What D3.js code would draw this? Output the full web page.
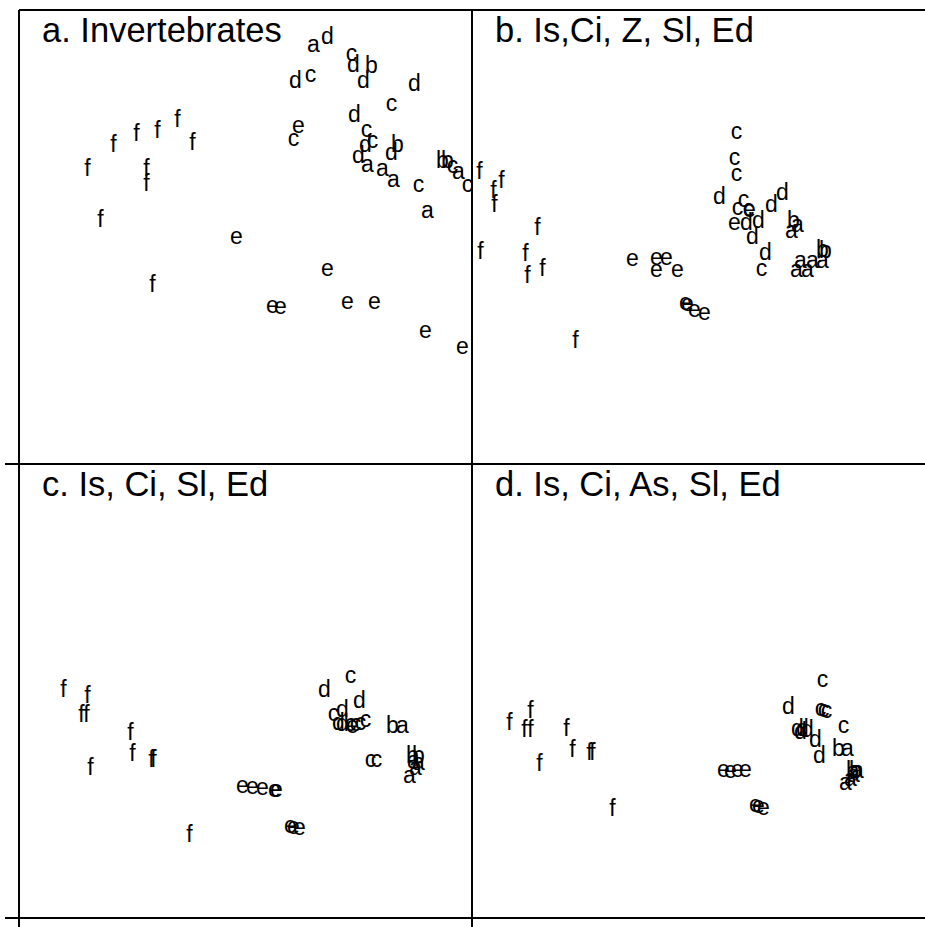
<!DOCTYPE html>
<html>
<head>
<meta charset="utf-8">
<script src="https://d3js.org/d3.v7.min.js"></script>
<style>
  body { margin: 0; background: #fff; }
  svg text { font-family: "Liberation Sans", Arial, sans-serif; fill: #000; }
</style>
</head>
<body>
<svg width="925" height="927"></svg>
<script>
// panel titles
var titles = ["a. Invertebrates", "b. Is,Ci, Z, Sl, Ed", "c. Is, Ci, Sl, Ed", "d. Is, Ci, As, Sl, Ed"];

// ordination scores [group, axis1, axis2]
var ptsA = [
  ["a",0.68,1.93],["a",1.22,0.73],["a",1.37,0.69],["a",1.48,0.58],["a",1.82,0.27],["a",2.13,0.66],
  ["b",1.26,1.72],["b",1.52,0.93],["b",1.97,0.77],["b",2.02,0.77],
  ["c",1.06,1.84],["c",0.65,1.63],["c",1.46,1.34],["c",0.48,0.99],["c",1.21,1.08],["c",1.27,0.97],["c",1.73,0.53],["c",2.07,0.72],["c",2.22,0.53],
  ["d",0.82,2.01],["d",1.08,1.73],["d",0.50,1.57],["d",1.18,1.57],["d",1.69,1.54],["d",1.09,1.23],["d",1.20,0.93],["d",1.46,0.85],["d",1.13,0.82],
  ["e",0.53,1.12],["e",-0.09,0.01],["e",0.82,-0.31],["e",0.27,-0.68],["e",0.35,-0.69],["e",1.02,-0.64],["e",1.29,-0.64],["e",1.80,-0.93],["e",2.17,-1.09],
  ["f",-1.32,0.93],["f",-1.09,1.04],["f",-0.88,1.07],["f",-0.68,1.18],["f",-0.53,0.95],["f",-1.58,0.69],["f",-0.99,0.69],["f",-0.99,0.54],["f",-1.45,0.18],["f",-0.93,-0.47]
];

var ptsB = [
  ["a",0.99,0.13],["a",0.93,0.07],["a",1.02,-0.23],["a",1.14,-0.23],["a",1.24,-0.23],["a",0.98,-0.32],["a",1.09,-0.32],
  ["b",0.95,0.17],["b",1.24,-0.12],["b",1.27,-0.13],
  ["c",0.38,1.06],["c",0.36,0.80],["c",0.38,0.64],["c",0.45,0.38],["c",0.39,0.30],["c",0.50,0.29],["c",0.63,-0.31],
  ["d",0.21,0.41],["d",0.48,0.15],["d",0.60,0.17],["d",0.54,0.01],["d",0.67,-0.15],["d",0.73,0.33],["d",0.84,0.45],
  ["e",0.36,0.15],["e",0.51,0.28],["e",-0.66,-0.21],["e",-0.42,-0.20],["e",-0.32,-0.20],["e",-0.42,-0.32],["e",-0.21,-0.32],["e",-0.13,-0.65],["e",-0.11,-0.66],["e",-0.04,-0.72],["e",0.06,-0.75],
  ["f",-2.19,0.66],["f",-1.97,0.57],["f",-2.05,0.47],["f",-2.04,0.33],["f",-1.61,0.10],["f",-2.18,-0.14],["f",-1.73,-0.16],["f",-1.56,-0.31],["f",-1.71,-0.38],["f",-1.23,-1.03]
];

var ptsC = [
  ["a",1.57,-0.34],["a",1.70,-0.76],["a",1.64,-0.84],["a",1.73,-0.71],["a",1.68,-0.69],
  ["b",1.47,-0.34],["b",1.67,-0.64],["b",1.73,-0.64],
  ["c",1.05,0.16],["c",0.88,-0.22],["c",1.05,-0.32],["c",1.10,-0.32],["c",1.15,-0.31],["c",1.20,-0.28],["c",1.25,-0.68],["c",1.31,-0.68],
  ["d",0.79,0.02],["d",1.14,-0.09],["d",0.97,-0.18],["d",0.97,-0.32],["d",0.93,-0.31],
  ["e",1.07,-0.34],["e",-0.03,-0.94],["e",0.07,-0.95],["e",0.17,-0.96],["e",0.29,-0.98],["e",0.31,-0.98],["e",0.45,-1.34],["e",0.48,-1.35],["e",0.54,-1.36],
  ["f",-1.82,0.02],["f",-1.58,-0.04],["f",-1.64,-0.23],["f",-1.59,-0.23],["f",-1.15,-0.41],["f",-1.13,-0.62],["f",-0.94,-0.68],["f",-0.92,-0.68],["f",-1.55,-0.76],["f",-0.56,-1.43]
];

var ptsD = [
  ["a",1.49,-0.57],["a",1.47,-0.91],["a",1.52,-0.87],["a",1.55,-0.83],["a",1.59,-0.79],
  ["b",1.40,-0.57],["b",1.54,-0.79],["b",1.57,-0.79],
  ["c",1.24,0.12],["c",1.22,-0.17],["c",1.25,-0.18],["c",1.28,-0.19],["c",1.45,-0.34],
  ["d",0.90,-0.15],["d",0.99,-0.37],["d",1.04,-0.37],["d",1.09,-0.38],["d",1.02,-0.40],["d",1.17,-0.48],["d",1.21,-0.64],
  ["e",0.25,-0.78],["e",0.32,-0.79],["e",0.39,-0.78],["e",0.47,-0.78],["e",0.57,-1.13],["e",0.60,-1.14],["e",0.65,-1.16],
  ["f",-1.89,-0.31],["f",-1.68,-0.19],["f",-1.74,-0.38],["f",-1.68,-0.38],["f",-1.32,-0.37],["f",-1.26,-0.58],["f",-1.09,-0.61],["f",-1.06,-0.61],["f",-1.59,-0.72],["f",-0.86,-1.17]
];

var svg = d3.select("svg");

var pw = 453, ph = 454;
var x = d3.scaleLinear().domain([-2.265, 2.265]).range([0, pw]);
var y = d3.scaleLinear().domain([-2.27, 2.27]).range([ph, 0]);

var panels = [
  { pts: ptsA, left: 19,  top: 10 },
  { pts: ptsB, left: 472, top: 10 },
  { pts: ptsC, left: 19,  top: 464 },
  { pts: ptsD, left: 472, top: 464 }
];

panels.forEach(function(p, i) {
  var g = svg.append("g")
    .attr("transform", "translate(" + p.left + "," + p.top + ")");

  g.append("text")
    .attr("x", 23)
    .attr("y", 32)
    .attr("font-size", "34.5px")
    .text(titles[i]);

  g.selectAll(".pt")
    .data(p.pts)
    .enter().append("text")
    .attr("class", "pt")
    .attr("x", function(d) { return x(d[1]); })
    .attr("y", function(d) { return y(d[2]); })
    .attr("dy", "0.35em")
    .attr("text-anchor", "middle")
    .attr("font-size", "23px")
    .text(function(d) { return d[0]; });
});

// frame lines
var frame = [
  [[19, 10], [925, 10]],
  [[5, 464], [925, 464]],
  [[5, 918], [925, 918]],
  [[19, 10], [19, 927]],
  [[472, 10], [472, 927]]
];
svg.selectAll(".frame")
  .data(frame)
  .enter().append("path")
  .attr("class", "frame")
  .attr("d", d3.line())
  .attr("stroke", "#000")
  .attr("stroke-width", 2)
  .attr("fill", "none");
</script>
</body>
</html>
